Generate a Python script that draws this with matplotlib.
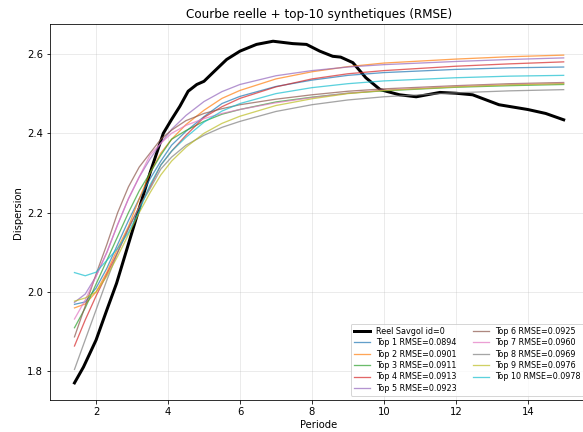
import matplotlib
matplotlib.use("Agg")
import matplotlib.pyplot as plt

# courbe reelle (lissee Savgol)
periode_reel = [1.4, 1.65, 2.0, 2.3, 2.57, 2.85, 3.13, 3.5, 3.87, 4.1, 4.33, 4.56, 4.8,
                5.0, 5.25, 5.63, 6.0, 6.46, 6.92, 7.47, 7.85, 8.22, 8.58, 8.8, 9.14,
                9.5, 9.9, 10.44, 10.9, 11.56, 12.0, 12.47, 13.2, 14.0, 14.5, 15.0]
disp_reel = [1.771, 1.811, 1.879, 1.955, 2.022, 2.106, 2.190, 2.300, 2.400, 2.435,
             2.468, 2.506, 2.523, 2.531, 2.553, 2.586, 2.607, 2.624, 2.632, 2.626,
             2.624, 2.607, 2.594, 2.592, 2.578, 2.540, 2.510, 2.497, 2.492, 2.503,
             2.501, 2.497, 2.472, 2.460, 2.450, 2.434]

# courbes synthetiques (top-10)
periode = [1.4, 1.7, 2.0, 2.3, 2.6, 2.9, 3.2, 3.5, 3.8, 4.1, 4.5, 5.0, 5.5, 6.0,
           7.0, 8.0, 9.0, 10.0, 12.0, 13.5, 15.0]

top1 = [1.969, 1.975, 2.010, 2.060, 2.120, 2.180, 2.235, 2.285, 2.330, 2.370, 2.405,
        2.442, 2.475, 2.493, 2.518, 2.534, 2.546, 2.553, 2.561, 2.565, 2.567]
top2 = [1.960, 1.970, 2.000, 2.050, 2.110, 2.165, 2.235, 2.300, 2.350, 2.385, 2.422,
        2.458, 2.488, 2.508, 2.537, 2.555, 2.568, 2.577, 2.587, 2.593, 2.597]
top3 = [1.910, 1.960, 2.020, 2.080, 2.140, 2.200, 2.255, 2.300, 2.345, 2.385, 2.407,
        2.430, 2.448, 2.460, 2.479, 2.491, 2.501, 2.507, 2.516, 2.520, 2.523]
top4 = [1.864, 1.930, 1.990, 2.045, 2.100, 2.160, 2.215, 2.265, 2.320, 2.355, 2.395,
        2.440, 2.467, 2.488, 2.517, 2.537, 2.550, 2.558, 2.569, 2.575, 2.580]
top5 = [1.974, 1.995, 2.040, 2.100, 2.170, 2.235, 2.290, 2.335, 2.375, 2.410, 2.445,
        2.480, 2.505, 2.523, 2.545, 2.558, 2.567, 2.573, 2.581, 2.586, 2.590]
top6 = [1.887, 1.965, 2.045, 2.120, 2.200, 2.265, 2.315, 2.350, 2.385, 2.408, 2.432,
        2.450, 2.462, 2.472, 2.486, 2.497, 2.506, 2.512, 2.520, 2.525, 2.528]
top7 = [1.932, 1.980, 2.040, 2.100, 2.170, 2.235, 2.290, 2.345, 2.375, 2.400, 2.420,
        2.437, 2.450, 2.460, 2.477, 2.490, 2.501, 2.509, 2.518, 2.523, 2.526]
top8 = [1.805, 1.880, 1.955, 2.030, 2.100, 2.160, 2.215, 2.260, 2.310, 2.340, 2.370,
        2.395, 2.415, 2.430, 2.455, 2.472, 2.484, 2.492, 2.502, 2.507, 2.510]
top9 = [1.977, 1.985, 2.000, 2.040, 2.090, 2.145, 2.200, 2.250, 2.295, 2.330, 2.365,
        2.400, 2.425, 2.443, 2.470, 2.487, 2.500, 2.508, 2.517, 2.522, 2.525]
top10 = [2.049, 2.041, 2.050, 2.080, 2.110, 2.150, 2.205, 2.270, 2.320, 2.355, 2.390,
         2.428, 2.456, 2.475, 2.500, 2.515, 2.525, 2.532, 2.540, 2.544, 2.546]

courbes = [top1, top2, top3, top4, top5, top6, top7, top8, top9, top10]
rmse = [0.0894, 0.0901, 0.0911, 0.0913, 0.0923, 0.0925, 0.0960, 0.0969, 0.0976, 0.0978]

fig = plt.figure(figsize=(583 / 72, 432 / 72), dpi=72)
ax = fig.add_axes([0.0858, 0.0741, 0.923, 0.870])

ax.plot(periode_reel, disp_reel, color="black", linewidth=3, label="Reel Savgol id=0")
for i, (y, r) in enumerate(zip(courbes, rmse)):
    ax.plot(periode, y, linewidth=1.3, alpha=0.7, label=f"Top {i + 1} RMSE={r:.4f}")

ax.set_title("Courbe reelle + top-10 synthetiques (RMSE)")
ax.set_xlabel("Periode", labelpad=3)
ax.set_ylabel("Dispersion")
ax.grid(True, alpha=0.3)
ax.legend(loc="lower right", ncol=2, fontsize=8, labelspacing=0.3)

fig.savefig("out.png", dpi=72)
